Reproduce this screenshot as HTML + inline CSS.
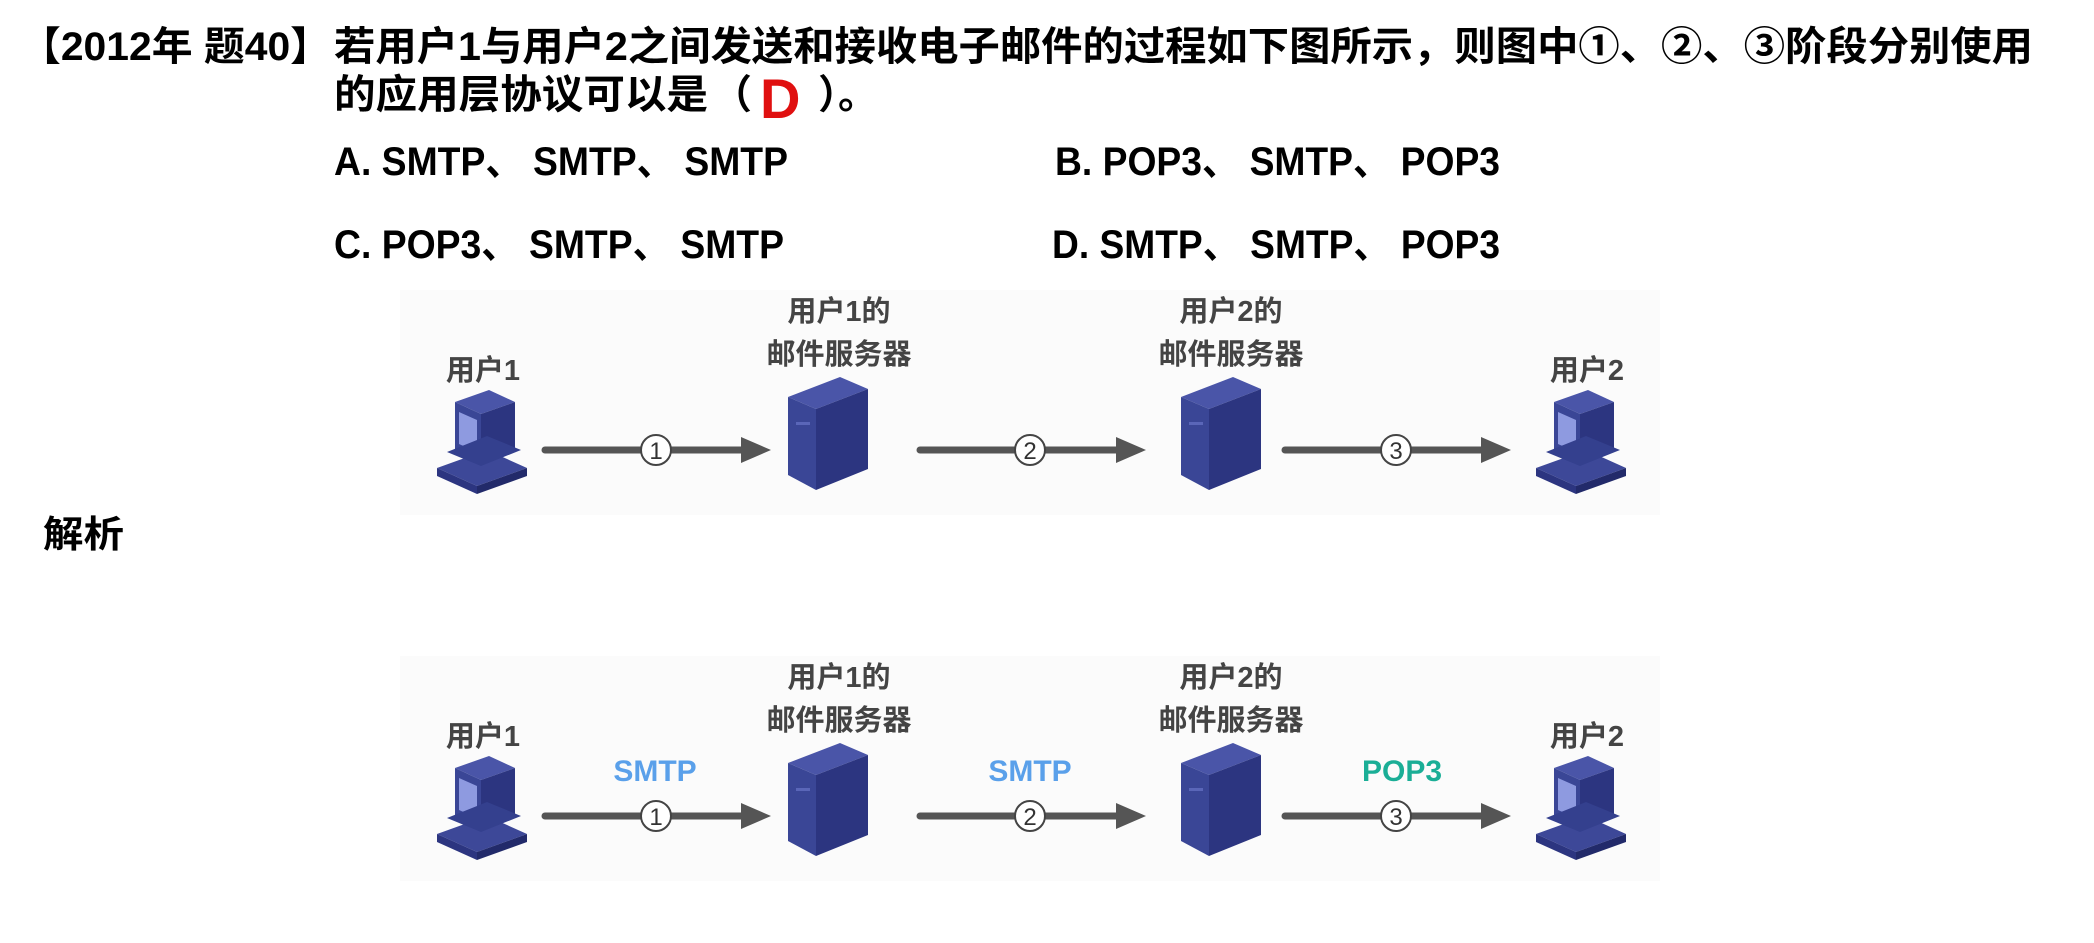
<!DOCTYPE html>
<html><head><meta charset="utf-8"><style>html,body{margin:0;padding:0;background:#fff}svg{display:block}</style></head>
<body>
<svg width="2094" height="943" viewBox="0 0 2094 943" xmlns="http://www.w3.org/2000/svg" font-family="'Liberation Sans','Noto Sans CJK SC',sans-serif" font-weight="bold">
<defs>
<g id="srv">
<polygon points="0,20 52,0 80,12 28,32" fill="#4a55a8"/>
<polygon points="0,20 28,32 28,113 0,98" fill="#3a4696"/>
<polygon points="28,32 80,12 80,92 28,113" fill="#2c3580"/>
<rect x="8" y="45" width="14" height="3" fill="#5a66b8"/>
</g>
<g id="pc">
<polygon points="18,12 52,0 78,12 44,24" fill="#4a55a8"/>
<polygon points="18,12 44,24 44,74 18,62" fill="#3a4696"/>
<polygon points="22,22 40,30 40,62 22,54" fill="#8e9ae0"/>
<polygon points="44,24 78,12 78,62 44,74" fill="#2c3580"/>
<polygon points="0,78 50,60 90,78 40,96" fill="#3d4898"/>
<polygon points="0,78 40,96 40,104 0,86" fill="#2c3580"/>
<polygon points="40,96 90,78 90,86 40,104" fill="#222a6a"/>
<polygon points="10,62 50,46 84,60 44,76" fill="#34408e"/>
</g>
<g id="arr">
<line x1="0" y1="0" x2="200" y2="0" stroke="#555" stroke-width="7" stroke-linecap="round"/>
<polygon points="196,-13 226,0 196,13" fill="#555"/>
</g>
</defs>

<text x="20" y="60" font-size="40" textLength="311" lengthAdjust="spacingAndGlyphs">【2012年 题40】</text>
<text x="334" y="60" font-size="40" textLength="1699" lengthAdjust="spacingAndGlyphs">若用户1与用户2之间发送和接收电子邮件的过程如下图所示，则图中①、②、③阶段分别使用</text>
<text x="334" y="108" font-size="40" textLength="374" lengthAdjust="spacingAndGlyphs">的应用层协议可以是</text>
<text x="712" y="108" font-size="40">（</text>
<text x="760" y="118" font-size="56" fill="#e01010">D</text>
<text x="818" y="108" font-size="40">）。</text>

<text x="334" y="175" font-size="40" textLength="454" lengthAdjust="spacingAndGlyphs">A. SMTP、 SMTP、 SMTP</text>
<text x="1055" y="175" font-size="40" textLength="445" lengthAdjust="spacingAndGlyphs">B. POP3、 SMTP、 POP3</text>
<text x="334" y="258" font-size="40" textLength="450" lengthAdjust="spacingAndGlyphs">C. POP3、 SMTP、 SMTP</text>
<text x="1052" y="258" font-size="40" textLength="448" lengthAdjust="spacingAndGlyphs">D. SMTP、 SMTP、 POP3</text>

<text x="43" y="547" font-size="37" textLength="81" lengthAdjust="spacingAndGlyphs">解析</text>

<g id="d1">
<rect x="400" y="290" width="1260" height="225" fill="#fbfbfb"/>
<g fill="#444" font-size="29" text-anchor="middle">
<text x="483" y="380">用户1</text>
<text x="839" y="321">用户1的</text>
<text x="839" y="364">邮件服务器</text>
<text x="1231" y="321">用户2的</text>
<text x="1231" y="364">邮件服务器</text>
<text x="1587" y="380">用户2</text>
</g>
<use href="#pc" x="437" y="390"/>
<use href="#srv" x="788" y="377"/>
<use href="#srv" x="1181" y="377"/>
<use href="#pc" x="1536" y="390"/>
<use href="#arr" x="545" y="450"/>
<use href="#arr" x="920" y="450"/>
<use href="#arr" x="1285" y="450"/>
<g font-size="24" font-weight="normal" text-anchor="middle" fill="#333">
<circle cx="656" cy="450" r="15" fill="#fff" stroke="#444" stroke-width="2"/><text x="656" y="459">1</text>
<circle cx="1030" cy="450" r="15" fill="#fff" stroke="#444" stroke-width="2"/><text x="1030" y="459">2</text>
<circle cx="1396" cy="450" r="15" fill="#fff" stroke="#444" stroke-width="2"/><text x="1396" y="459">3</text>
</g>
</g>

<use href="#d1" x="0" y="366"/>
<g font-size="30" text-anchor="middle">
<text x="655" y="781" fill="#5aa0ea">SMTP</text>
<text x="1030" y="781" fill="#5aa0ea">SMTP</text>
<text x="1402" y="781" fill="#1aae96">POP3</text>
</g>
</svg>
</body></html>
